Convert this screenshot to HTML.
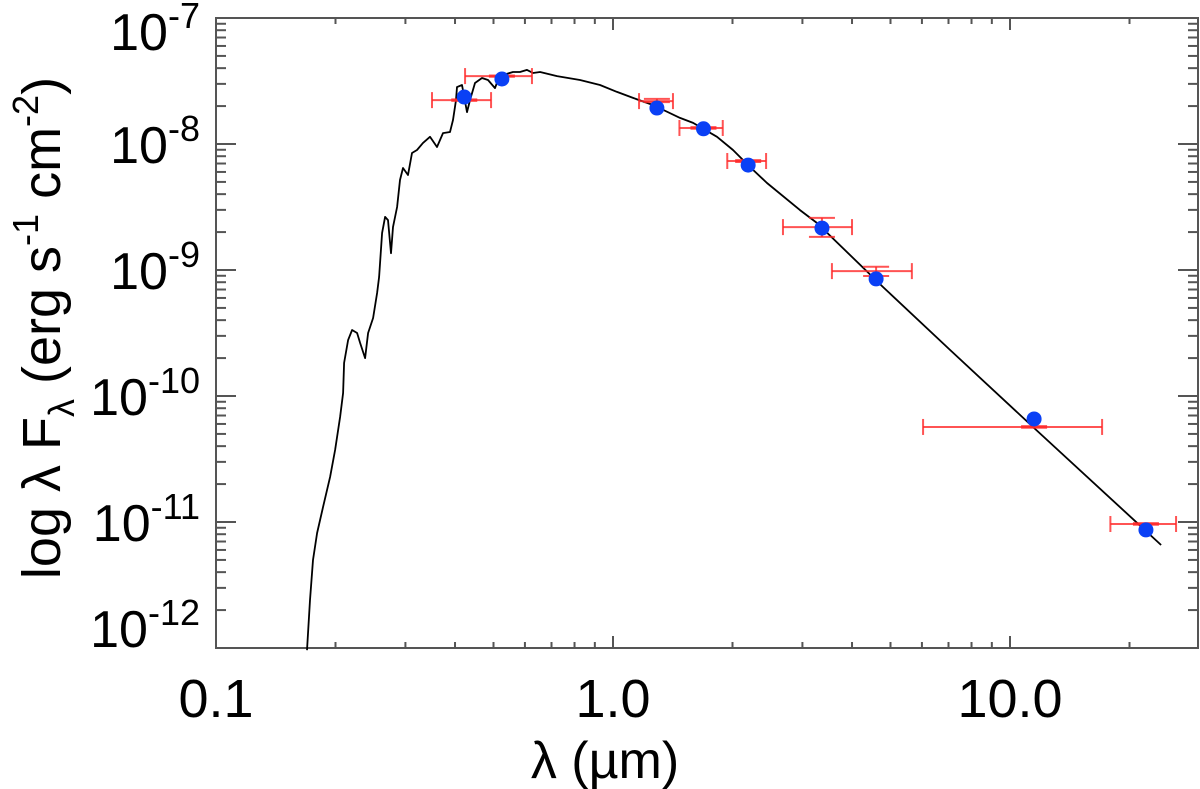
<!DOCTYPE html>
<html><head><meta charset="utf-8"><style>
html,body{margin:0;padding:0;background:#fff;}
svg{display:block;font-family:"Liberation Sans",sans-serif;}
</style></head><body>
<svg id="chart" width="1200" height="789" viewBox="0 0 1200 789">
<g id="axes"></g>
<g id="model"></g>
<g id="errs"></g>
<g id="pts"></g>
<text x="605" y="778" font-size="52" text-anchor="middle">λ (µm)</text>
<text transform="translate(60,328) rotate(-90)" font-size="54" text-anchor="middle">log λ F<tspan font-size="36" dy="14">λ</tspan><tspan dy="-14"> (erg s</tspan><tspan font-size="36" dy="-22">-1</tspan><tspan dy="22"> cm</tspan><tspan font-size="36" dy="-22">-2</tspan><tspan dy="22">)</tspan></text>
</svg>
<script>
// photometry
const lam = [0.422, 0.525, 1.29, 1.69, 2.19, 3.36, 4.6, 11.5, 22.0];
const flux = [2.36e-8, 3.28e-8, 1.93e-8, 1.32e-8, 6.8e-9, 2.15e-9, 8.5e-10, 6.57e-11, 8.65e-12];
const barFlux = [2.23e-8, 3.46e-8, 2.19e-8, 1.34e-8, 7.33e-9, 2.19e-9, 9.8e-10, 5.68e-11, 9.64e-12];
const lamLo = [0.350, 0.424, 1.163, 1.47, 1.94, 2.68, 3.56, 6.04, 17.9];
const lamHi = [0.493, 0.625, 1.416, 1.89, 2.43, 4.0, 5.66, 17.06, 26.2];
const fluxLo = [2.20e-8, 3.42e-8, 2.15e-8, 1.32e-8, 7.2e-9, 1.83e-9, 8.96e-10, 5.6e-11, 9.5e-12];
const fluxHi = [2.26e-8, 3.50e-8, 2.28e-8, 1.36e-8, 7.45e-9, 2.59e-9, 1.06e-9, 5.76e-11, 9.8e-12];
// model spectrum
const modelLam = [0.1695,0.1725,0.1755,0.1797,0.186,0.1938,0.1995,0.2054,0.209,0.2102,0.2151,0.2202,0.2267,0.2307,0.2375,0.2416,0.2487,0.2545,0.2575,0.262,0.2666,0.2712,0.276,0.2792,0.2858,0.2908,0.2958,0.3046,0.3117,0.3208,0.3322,0.3459,0.3603,0.373,0.3885,0.3954,0.4023,0.4046,0.4165,0.4287,0.4363,0.4491,0.4677,0.4843,0.5044,0.5132,0.5283,0.5598,0.5832,0.6074,0.6289,0.6551,0.7228,0.8259,0.9276,1.0236,1.123,1.261,1.475,1.591,1.828,2.006,2.214,2.443,2.958,3.265,4.787,7.063,11.43,24.02];
const modelFlux = [9.6e-13,2.40e-12,4.99e-12,8.18e-12,1.31e-11,2.28e-11,3.73e-11,6.81e-11,1.057e-10,1.83e-10,2.78e-10,3.34e-10,3.16e-10,2.64e-10,2.0e-10,3.16e-10,4.16e-10,6.57e-10,8.8e-10,1.97e-9,2.64e-9,2.49e-9,1.36e-9,2.19e-9,3.16e-9,5.18e-9,6.45e-9,5.67e-9,8.48e-9,8.96e-9,1.02e-8,1.14e-8,9.47e-9,1.22e-8,1.245e-8,1.55e-8,2.23e-8,2.83e-8,2.94e-8,1.79e-8,2.23e-8,3.05e-8,3.34e-8,3.22e-8,2.78e-8,3.22e-8,3.53e-8,3.73e-8,3.73e-8,3.87e-8,3.66e-8,3.73e-8,3.46e-8,3.22e-8,2.94e-8,2.59e-8,2.32e-8,2.04e-8,1.61e-8,1.47e-8,1.14e-8,8.96e-9,6.57e-9,4.9e-9,2.99e-9,2.36e-9,7.33e-10,2.32e-10,5.68e-11,6.57e-12];
const xTickLabels = ["0.1","1.0","10.0"];
const xTickVals = [0.1,1,10];
const yTickExp = [-7,-8,-9,-10,-11,-12];

const L=216,R=1198,T=18,B=648, XD=397, YD=126;
const X = v => L + (Math.log10(v)+1)*XD;
const Y = v => T + (-7 - Math.log10(v))*YD;
const NS='http://www.w3.org/2000/svg';
function mk(tag, attrs, parent){const e=document.createElementNS(NS,tag);for(const k in attrs)e.setAttribute(k,attrs[k]);parent.appendChild(e);return e;}
const axes=document.getElementById('axes');
const ac='#555';
const frame=mk('rect',{x:L,y:T,width:R-L,height:B-T,fill:'none',stroke:ac,'stroke-width':2},axes);


// x ticks
for(let d=-1; d<=1; d++){
  for(let m=1;m<=9;m++){
    const v=m*Math.pow(10,d); const x=X(v); if(x>R) continue;
    const len = m===1?12:6;
    const t1=mk('line',{x1:x,x2:x,y1:B,y2:B-len,stroke:ac,'stroke-width':2},axes);
    
    
    const t2=mk('line',{x1:x,x2:x,y1:T,y2:T+len,stroke:ac,'stroke-width':2},axes);
    
    
  }
}
xTickVals.forEach((v,i)=>{
  const t=mk('text',{x:X(v),y:717,'font-size':54,'text-anchor':'middle'},axes);
  t.textContent=xTickLabels[i];
  
  
});
// y ticks
for(let e=-12;e<=-8;e++){
  for(let m=1;m<=9;m++){
    const v=m*Math.pow(10,e); const y=Y(v); if(y<T-0.5||y>B+0.5) continue;
    const len=m===1?20:10;
    const t1=mk('line',{x1:L,x2:L+len,y1:y,y2:y,stroke:ac,'stroke-width':2},axes);
    
    
    const t2=mk('line',{x1:R,x2:R-len,y1:y,y2:y,stroke:ac,'stroke-width':2},axes);
    
    
  }
}
yTickExp.forEach(e=>{
  const ty=Y(Math.pow(10,e));
  let base = ty+19; if(e===-7) base=50; if(e===-12) base=647;
  const t=mk('text',{x:200,y:base,'font-size':52,'text-anchor':'end'},axes);
  
  
  const a=mk('tspan',{},t); a.textContent='10';
  const b=mk('tspan',{'font-size':36,dy:-22},t); b.textContent=String(e);
});
// model
const mg=document.getElementById('model');
const d=modelLam.map((v,i)=>(i?'L':'M')+X(v).toFixed(1)+' '+Y(modelFlux[i]).toFixed(1)).join(' ');
const path=mk('path',{d:d,fill:'none',stroke:'#000','stroke-width':1.8,'stroke-linejoin':'round'},mg);


// error bars
const eg=document.getElementById('errs');
const rc='rgba(255,40,40,0.8)';
lam.forEach((v,i)=>{
  const g=mk('g',{stroke:rc,'stroke-width':2},eg);
  
  
  const yb=Y(barFlux[i]), x1=X(lamLo[i]), x2=X(lamHi[i]);
  mk('line',{x1:x1,x2:x2,y1:yb,y2:yb},g);
  mk('line',{x1:x1,x2:x1,y1:yb-8,y2:yb+8},g);
  mk('line',{x1:x2,x2:x2,y1:yb-8,y2:yb+8},g);
  const xc=X(v), ylo=Y(fluxLo[i]), yhi=Y(fluxHi[i]);
  mk('line',{x1:xc,x2:xc,y1:ylo,y2:yhi},g);
  mk('line',{x1:xc-13,x2:xc+13,y1:ylo,y2:ylo},g);
  mk('line',{x1:xc-13,x2:xc+13,y1:yhi,y2:yhi},g);
});
// points
const pg=document.getElementById('pts');
lam.forEach((v,i)=>{
  const c=mk('circle',{cx:X(v),cy:Y(flux[i]),r:7.5,fill:'#0a40f5'},pg);
  
  
});
</script>
</body></html>
